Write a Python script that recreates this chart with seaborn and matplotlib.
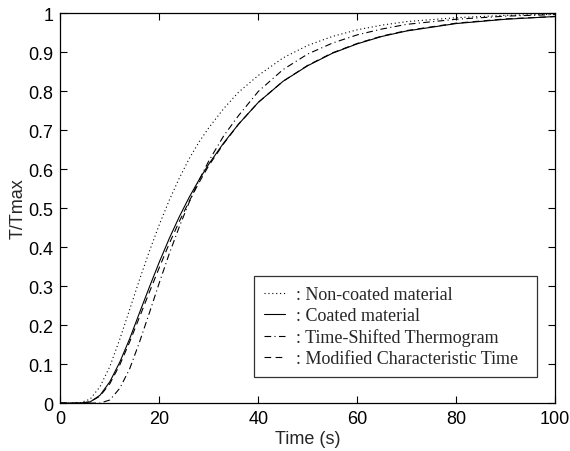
import numpy as np
import pandas as pd
import seaborn as sns
import matplotlib
matplotlib.use('Agg')
import matplotlib.pyplot as plt

sns.set_style('ticks')
plt.rcParams['font.family'] = ['Liberation Sans', 'DejaVu Sans']

# values
t_noncoated = [0, 2, 4, 6, 8, 10, 12, 14, 16, 18, 20, 22, 24, 26, 28, 30, 33, 36, 40, 45, 50, 55, 60, 65, 70, 80, 90, 100]
T_noncoated = [0, 0, 0.001, 0.01, 0.042, 0.094, 0.164, 0.24, 0.317, 0.39, 0.458, 0.52, 0.576, 0.626, 0.669, 0.706,
               0.755, 0.797, 0.84, 0.885, 0.917, 0.94, 0.957, 0.969, 0.978, 0.988, 0.994, 0.997]

t_coated = [0, 2, 4, 6, 8, 10, 12, 14, 16, 18, 20, 22, 24, 26, 28, 30, 33, 36, 40, 45, 50, 55, 60, 65, 70, 80, 90, 100]
T_coated = [0, 0, 0, 0.003, 0.02, 0.055, 0.105, 0.165, 0.232, 0.298, 0.362, 0.422, 0.477, 0.527, 0.572, 0.613,
            0.667, 0.715, 0.771, 0.825, 0.865, 0.897, 0.921, 0.94, 0.954, 0.973, 0.984, 0.991]

t_shifted = [0, 6, 8, 10, 12, 14, 16, 18, 20, 22, 24, 26, 28, 30, 33, 36, 40, 45, 50, 55, 60, 65, 70, 80, 90, 100]
T_shifted = [0, 0, 0, 0.008, 0.038, 0.088, 0.157, 0.232, 0.309, 0.383, 0.451, 0.514, 0.571, 0.621, 0.685, 0.737,
             0.799, 0.855, 0.895, 0.923, 0.944, 0.959, 0.971, 0.984, 0.992, 0.996]

t_modified = [0, 2, 4, 6, 8, 10, 12, 14, 16, 18, 20, 22, 24, 26, 28, 30, 33, 36, 40, 45, 50, 55, 60, 65, 70, 80, 90, 100]
T_modified = [0, 0, 0, 0.003, 0.018, 0.05, 0.098, 0.157, 0.221, 0.285, 0.348, 0.409, 0.465, 0.517, 0.565, 0.609,
              0.665, 0.715, 0.771, 0.825, 0.866, 0.898, 0.922, 0.941, 0.955, 0.974, 0.985, 0.991]

labels = [': Non-coated material  ', ': Coated material', ': Time-Shifted Thermogram', ': Modified Characteristic Time  ']
x_ticks = [0, 20, 40, 60, 80, 100]
y_ticks = [0, 0.1, 0.2, 0.3, 0.4, 0.5, 0.6, 0.7, 0.8, 0.9, 1]
y_ticklabels = ['0', '0.1', '0.2', '0.3', '0.4', '0.5', '0.6', '0.7', '0.8', '0.9', '1']

fig = plt.figure(figsize=(5.7, 4.52), dpi=100)
ax = fig.add_axes([0.106, 0.106, 0.868, 0.863])

lw = 0.8
sns.lineplot(x=t_noncoated, y=T_noncoated, ax=ax, color='black', lw=lw, linestyle=(0, (1, 2.5)), label=labels[0])
sns.lineplot(x=t_coated, y=T_coated, ax=ax, color='black', lw=lw, linestyle='-', label=labels[1])
sns.lineplot(x=t_shifted, y=T_shifted, ax=ax, color='black', lw=lw, linestyle=(0, (6, 3, 1, 3)), label=labels[2])
sns.lineplot(x=t_modified, y=T_modified, ax=ax, color='black', lw=lw, linestyle=(0, (6, 4)), label=labels[3])

ax.set_xlim(0, 100)
ax.set_ylim(0, 1)
ax.set_xticks(x_ticks)
ax.set_yticks(y_ticks)
ax.set_yticklabels(y_ticklabels)
ax.tick_params(direction='in', top=True, right=True, length=5, width=0.8, labelsize=13, colors='black', pad=5)
for s in ax.spines.values():
    s.set_linewidth(0.9)
    s.set_color('black')
ax.set_xlabel('Time (s)', fontsize=13, labelpad=2)
ax.set_ylabel('T/Tmax', fontsize=13, labelpad=1)

leg = ax.legend(loc='lower right', bbox_to_anchor=(0.9636, 0.0667), borderaxespad=0,
                prop={'family': 'Liberation Serif', 'size': 13}, frameon=True, fancybox=False,
                handlelength=1.2, handletextpad=0.6, labelspacing=0.22, borderpad=0.55)
leg.get_frame().set_edgecolor('black')
leg.get_frame().set_linewidth(0.9)

fig.savefig('out.png', dpi=100)
plt.close()
